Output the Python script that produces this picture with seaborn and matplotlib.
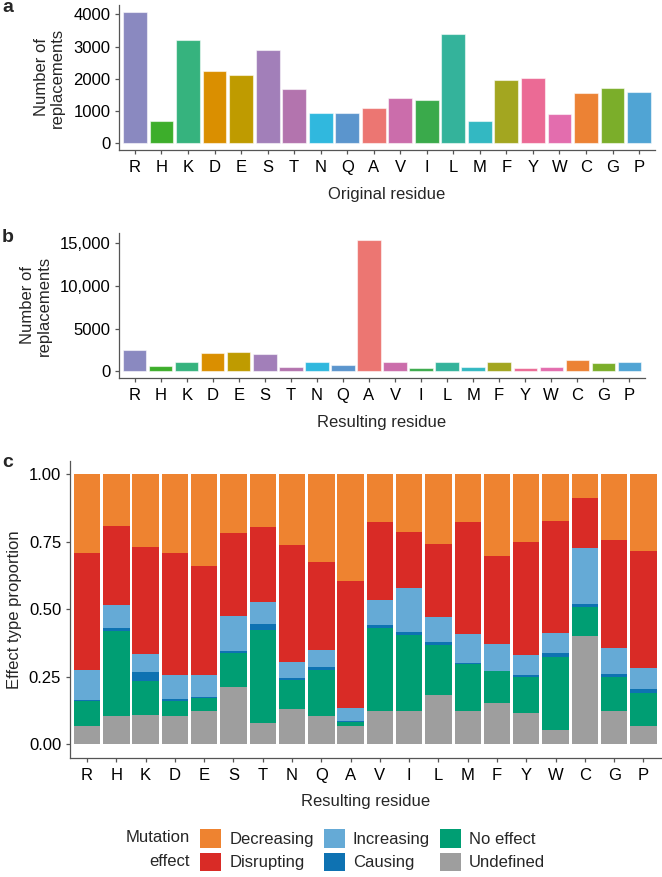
import numpy as np
import pandas as pd
import matplotlib
matplotlib.use("Agg")
import matplotlib.pyplot as plt
from matplotlib.patches import Patch
import seaborn as sns

# ---------------- data ----------------
residues = ["R", "H", "K", "D", "E", "S", "T", "N", "Q", "A",
            "V", "I", "L", "M", "F", "Y", "W", "C", "G", "P"]

original_counts = [4090, 690, 3210, 2245, 2110, 2905, 1680, 935, 950, 1095,
                   1415, 1355, 3395, 695, 1955, 2025, 910, 1565, 1725, 1585]

resulting_counts = [2490, 620, 1090, 2100, 2255, 2060, 545, 1050, 740, 15390,
                    1050, 350, 1090, 465, 1050, 350, 465, 1285, 1010, 1090]

residue_colors = ["#8A89C0", "#3DAE2B", "#36B37E", "#DA8F00", "#BF9B00",
                  "#A27FB9", "#B374AE", "#30B8DE", "#5B95CD", "#EC7672",
                  "#CB6DAB", "#3AAA4B", "#34B39B", "#33B8C2", "#A3A620",
                  "#EB6A95", "#E36DAE", "#EC8234", "#7BAE2A", "#50A4D4"]

# effect proportions per resulting residue (bottom to top in the stack)
undefined  = [0.067, 0.105, 0.108, 0.105, 0.124, 0.212, 0.078, 0.129, 0.103, 0.067,
              0.123, 0.124, 0.183, 0.125, 0.152, 0.116, 0.054, 0.400, 0.123, 0.067]
no_effect  = [0.093, 0.316, 0.126, 0.057, 0.047, 0.125, 0.345, 0.109, 0.173, 0.017,
              0.309, 0.279, 0.183, 0.172, 0.119, 0.134, 0.270, 0.109, 0.126, 0.124]
causing    = [0.003, 0.008, 0.033, 0.005, 0.004, 0.008, 0.021, 0.007, 0.012, 0.002,
              0.011, 0.013, 0.014, 0.005, 0.002, 0.007, 0.015, 0.011, 0.010, 0.012]
increasing = [0.111, 0.088, 0.068, 0.088, 0.080, 0.131, 0.083, 0.058, 0.062, 0.049,
              0.092, 0.162, 0.090, 0.106, 0.097, 0.075, 0.072, 0.206, 0.097, 0.079]
disrupting = [0.436, 0.291, 0.394, 0.453, 0.407, 0.307, 0.277, 0.435, 0.325, 0.471,
              0.288, 0.207, 0.273, 0.416, 0.327, 0.417, 0.416, 0.187, 0.400, 0.435]
decreasing = [0.290, 0.192, 0.271, 0.292, 0.338, 0.217, 0.196, 0.262, 0.325, 0.394,
              0.177, 0.215, 0.257, 0.176, 0.304, 0.251, 0.173, 0.087, 0.244, 0.283]

effect_names  = ["Undefined", "No effect", "Causing", "Increasing", "Disrupting", "Decreasing"]
effect_colors = ["#9E9E9E", "#009E73", "#0E72B2", "#65AAD6", "#D92B26", "#EE8330"]

a_ticks = [0, 1000, 2000, 3000, 4000]
a_ticklabels = ["0", "1000", "2000", "3000", "4000"]
b_ticks = [0, 5000, 10000, 15000]
b_ticklabels = ["0", "5000", "10,000", "15,000"]
c_ticks = [0, 0.25, 0.5, 0.75, 1.0]
c_ticklabels = ["0.00", "0.25", "0.50", "0.75", "1.00"]

# ---------------- style ----------------
sns.set_theme(style="ticks")
plt.rcParams["font.family"] = ["Liberation Sans", "DejaVu Sans"]
FS = 12
AXC = "#555555"
plt.rcParams.update({
    "axes.edgecolor": AXC,
    "axes.linewidth": 0.9,
    "xtick.color": AXC,
    "ytick.color": AXC,
    "xtick.labelcolor": "black",
    "ytick.labelcolor": "black",
    "xtick.major.size": 3,
    "ytick.major.size": 3,
    "xtick.major.width": 0.9,
    "ytick.major.width": 0.9,
    "xtick.labelsize": FS,
    "ytick.labelsize": FS,
    "axes.labelsize": FS,
})

W, H = 662, 877
fig = plt.figure(figsize=(W / 100, H / 100), dpi=100)


def add_ax(left, right, top, bottom):
    return fig.add_axes([left / W, 1 - bottom / H, (right - left) / W, (bottom - top) / H])


def style_ax(ax):
    sns.despine(ax=ax)
    ax.tick_params(axis="x", pad=4)
    ax.tick_params(axis="y", pad=3)


pal = dict(zip(residues, residue_colors))

# ---------------- panel a ----------------
ax_a = add_ax(119, 655, 5, 150)
df_a = pd.DataFrame({"residue": residues, "count": original_counts})
sns.barplot(data=df_a, x="residue", y="count", hue="residue", palette=pal,
            order=residues, hue_order=residues, saturation=1, width=0.9,
            legend=False, ax=ax_a, edgecolor=(1, 1, 1, 0.55), linewidth=0.8)
ax_a.set_xlim(-0.6, len(residues) - 0.4)
ax_a.set_ylim(-max(original_counts) * 0.05, max(original_counts) * 1.05)
ax_a.set_yticks(a_ticks)
ax_a.set_yticklabels(a_ticklabels)
ax_a.set_xlabel("Original residue", labelpad=9)
ax_a.set_ylabel("Number of\nreplacements", labelpad=6, linespacing=1.1)
style_ax(ax_a)

# ---------------- panel b ----------------
ax_b = add_ax(119, 645, 233, 378)
df_b = pd.DataFrame({"residue": residues, "count": resulting_counts})
sns.barplot(data=df_b, x="residue", y="count", hue="residue", palette=pal,
            order=residues, hue_order=residues, saturation=1, width=0.9,
            legend=False, ax=ax_b, edgecolor=(1, 1, 1, 0.55), linewidth=0.8)
ax_b.set_xlim(-0.6, len(residues) - 0.4)
ax_b.set_ylim(-max(resulting_counts) * 0.05, max(resulting_counts) * 1.05)
ax_b.set_yticks(b_ticks)
ax_b.set_yticklabels(b_ticklabels)
ax_b.set_xlabel("Resulting residue", labelpad=9)
ax_b.set_ylabel("Number of\nreplacements", labelpad=6, linespacing=1.1)
style_ax(ax_b)

# ---------------- panel c ----------------
ax_c = add_ax(69.5, 661, 460.8, 757.8)
layers = [undefined, no_effect, causing, increasing, disrupting, decreasing]
cum = np.cumsum(np.array(layers), axis=0)
# draw from the top layer down so each lower cumulative bar covers the one above
for i in range(len(layers) - 1, -1, -1):
    df_c = pd.DataFrame({"residue": residues, "value": cum[i]})
    sns.barplot(data=df_c, x="residue", y="value", order=residues,
                color=effect_colors[i], saturation=1, width=0.9,
                ax=ax_c, linewidth=0)
ax_c.set_xlim(-0.6, len(residues) - 0.4)
ax_c.set_ylim(-0.05, 1.05)
ax_c.set_yticks(c_ticks)
ax_c.set_yticklabels(c_ticklabels)
ax_c.set_xlabel("Resulting residue", labelpad=8)
ax_c.set_ylabel("Effect type proportion", labelpad=5)
style_ax(ax_c)

# ---------------- legend ----------------
legend_order = ["Decreasing", "Disrupting", "Increasing", "Causing", "No effect", "Undefined"]
cmap = dict(zip(effect_names, effect_colors))
handles = [Patch(facecolor=cmap[n], edgecolor="none", label=n) for n in legend_order]
fig.legend(handles=handles, ncol=3, loc="center left",
           bbox_to_anchor=(200 / W, 1 - 850 / H), frameon=False,
           fontsize=FS, handlelength=1.25, handleheight=1.35,
           handletextpad=0.5, columnspacing=0.6, labelspacing=0.3,
           borderpad=0, borderaxespad=0)
fig.text(190 / W, 1 - 838 / H, "Mutation", ha="right", va="center", fontsize=FS)
fig.text(190 / W, 1 - 862 / H, "effect", ha="right", va="center", fontsize=FS)

# ---------------- panel letters ----------------
for lab, (x, y) in {"a": (2, 8), "b": (2, 238), "c": (2, 462)}.items():
    fig.text(x / W, 1 - y / H, lab, ha="left", va="center", fontsize=14, fontweight="bold")

fig.savefig("out.png", dpi=100)
